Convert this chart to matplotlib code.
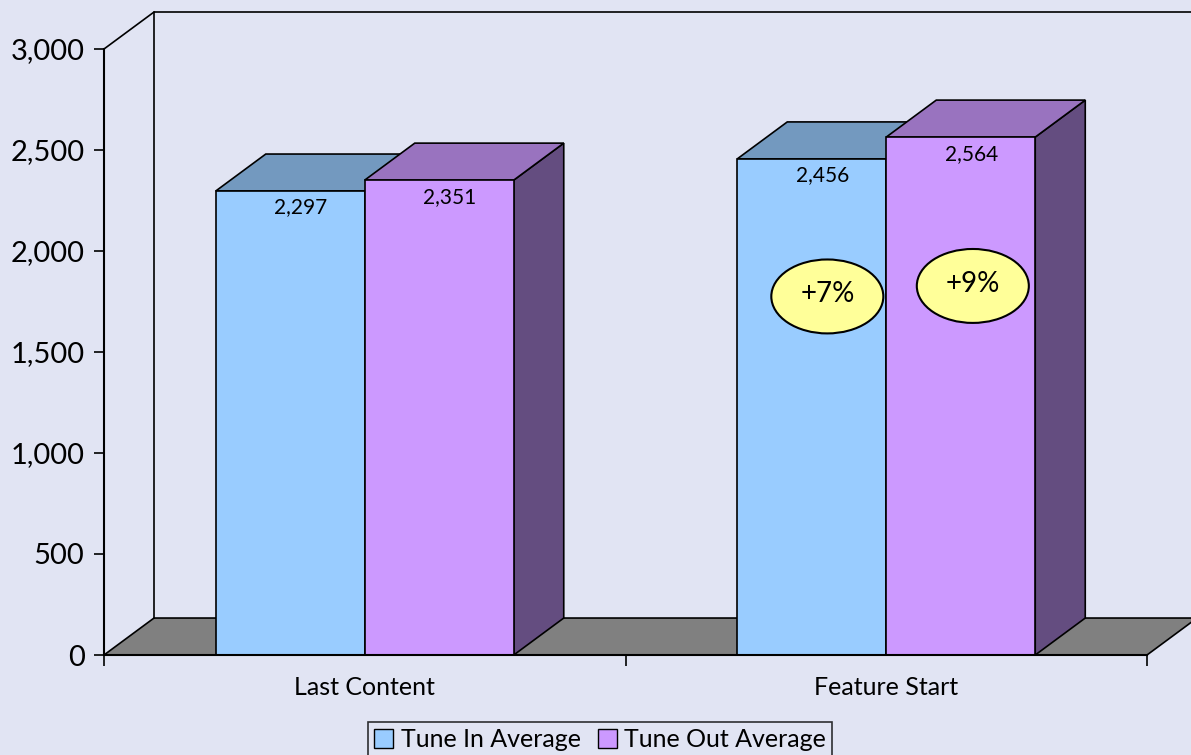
import matplotlib.pyplot as plt
from matplotlib.patches import Polygon, Rectangle, Ellipse
from matplotlib.ticker import FuncFormatter

# Data
categories = ["Last Content", "Feature Start"]
series_names = ["Tune In Average", "Tune Out Average"]
tune_in = [2297, 2456]
tune_out = [2351, 2564]
y_ticks = [0, 500, 1000, 1500, 2000, 2500, 3000]

# Look
bg = "#E1E4F3"
front_colors = ["#99CCFF", "#CC99FF"]
top_colors = ["#7399BF", "#9973BF"]
side_colors = ["#4C6680", "#644D80"]
floor_color = "#808080"
font = "Lato"

bar_w = 0.2857          # width of one bar in category units
depth_x = 0.0959        # 3D depth offset (category units)
depth_y = 183           # 3D depth offset (value units)
y_max = 3000

plt.rcParams['font.family'] = [font, 'DejaVu Sans']

fig = plt.figure(figsize=(11.91, 7.55), dpi=100, facecolor=bg)
ax = fig.add_axes([104 / 1191, 100 / 755, 1043 / 1191, 606 / 755])
ax.set_facecolor("none")
ax.set_xlim(0, len(categories))
ax.set_ylim(0, y_max)


def poly(points, color, z):
    p = Polygon(points, closed=True, facecolor=color, edgecolor="black",
                linewidth=1.2, zorder=z, clip_on=False)
    ax.add_patch(p)


# floor and back wall
n = len(categories)
poly([(0, 0), (n, 0), (n + depth_x, depth_y), (depth_x, depth_y)], floor_color, 1)
ax.plot([depth_x, depth_x, n + depth_x], [depth_y, y_max + depth_y, y_max + depth_y],
        color="black", lw=1.2, clip_on=False, zorder=1)
ax.plot([0, depth_x], [y_max, y_max + depth_y], color="black", lw=1.2,
        clip_on=False, zorder=1)

# 3D bars
z = 2
for i, vals in enumerate([tune_in, tune_out]):
    for c, v in enumerate(vals):
        x0 = c + 0.5 - bar_w + i * bar_w
        x1 = x0 + bar_w
        poly([(x1, 0), (x1, v), (x1 + depth_x, v + depth_y), (x1 + depth_x, depth_y)],
             side_colors[i], z)
        poly([(x0, v), (x1, v), (x1 + depth_x, v + depth_y), (x0 + depth_x, v + depth_y)],
             top_colors[i], z)
        ax.add_patch(Rectangle((x0, 0), bar_w, v, facecolor=front_colors[i],
                               edgecolor="black", linewidth=1.2, zorder=z))
        ax.text((x0 + x1) / 2 + 0.02, v - 82, f"{v:,}", ha="center", va="center",
                fontsize=15, zorder=z + 1)
    z += 2

# change callouts on the second category
callout_pos = [(1.387, 1775), (1.666, 1827)]
for i, vals in enumerate([tune_in, tune_out]):
    pct = round((vals[1] / vals[0] - 1) * 100)
    cx, cy = callout_pos[i]
    ax.add_patch(Ellipse((cx, cy), 0.2148, 366, facecolor="#FFFF99",
                         edgecolor="black", linewidth=1.5, zorder=10))
    ax.text(cx, cy + 10, f"+{pct}%", ha="center", va="center", fontsize=20, zorder=11)

# axes
for s in ["top", "right"]:
    ax.spines[s].set_visible(False)
for s in ["left", "bottom"]:
    ax.spines[s].set_linewidth(1.5)
    ax.spines[s].set_zorder(20)
ax.set_yticks(y_ticks)
ax.yaxis.set_major_formatter(FuncFormatter(lambda v, p: f"{int(v):,}"))
ax.tick_params(axis="y", labelsize=21, length=7, width=1.2, pad=7)
ax.set_xticks(range(n + 1))
ax.set_xticklabels([])
ax.set_xticks([c + 0.5 for c in range(n)], minor=True)
ax.set_xticklabels(categories, minor=True)
ax.tick_params(axis="x", which="major", length=8, width=1.2)
ax.tick_params(axis="x", which="minor", length=0, labelsize=18, pad=15)

# legend
handles = [Rectangle((0, 0), 1, 1, facecolor=col, edgecolor="black", linewidth=1)
           for col in front_colors]
leg = fig.legend(handles, series_names, loc="upper center", ncol=2,
                 bbox_to_anchor=(0.504, 33 / 755), fontsize=18, frameon=True,
                 fancybox=False, edgecolor="black", facecolor=bg,
                 handlelength=0.75, handleheight=0.75, handletextpad=0.3,
                 columnspacing=0.7, borderpad=0.25, borderaxespad=0)
leg.get_frame().set_linewidth(1.2)

fig.savefig("out.png", dpi=100, facecolor=bg)
